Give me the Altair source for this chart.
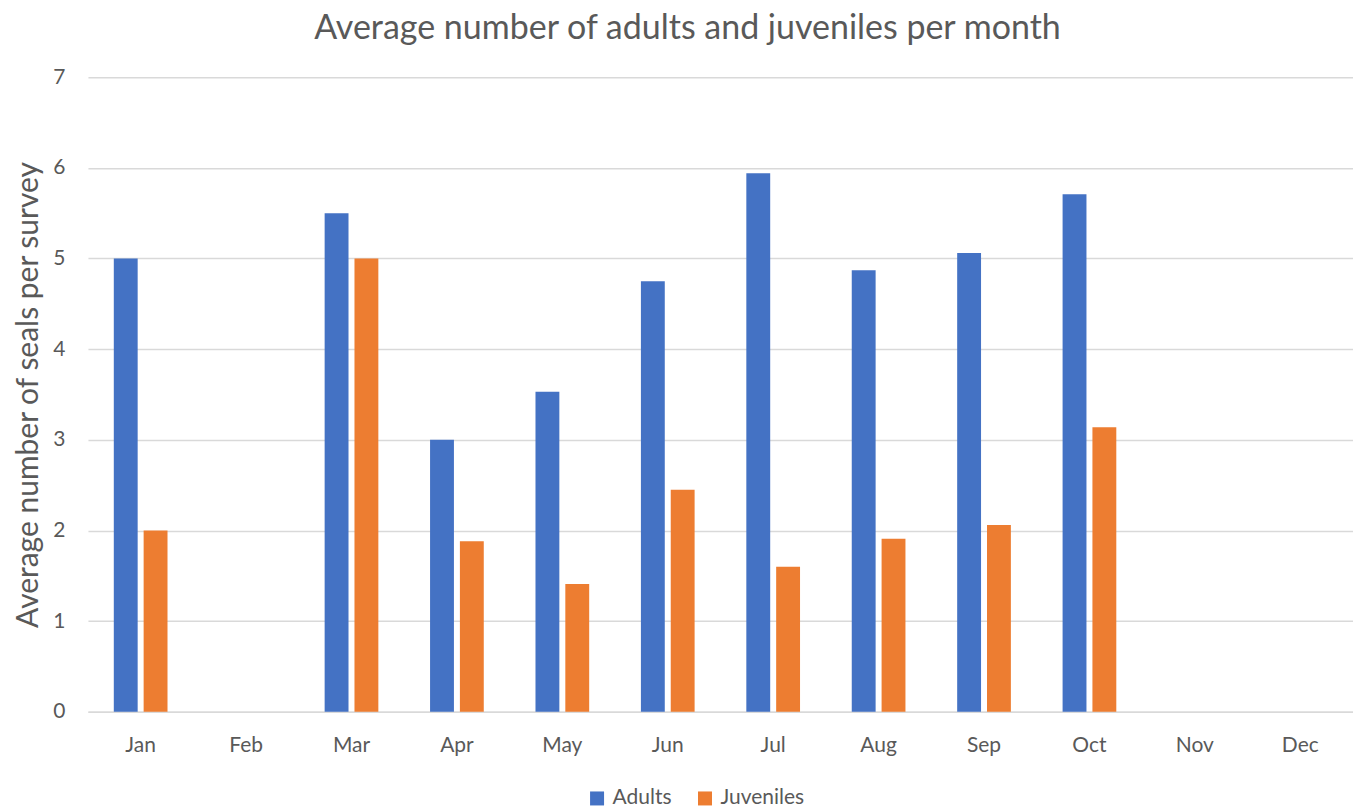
import altair as alt
import pandas as pd

months = ["Jan", "Feb", "Mar", "Apr", "May", "Jun", "Jul", "Aug", "Sep", "Oct", "Nov", "Dec"]
data_months = ["Jan", "Mar", "Apr", "May", "Jun", "Jul", "Aug", "Sep", "Oct"]
adults = [5.0, 5.5, 3.0, 3.53, 4.75, 5.94, 4.87, 5.06, 5.71]
juveniles = [2.0, 5.0, 1.88, 1.41, 2.45, 1.6, 1.91, 2.06, 3.14]
series = ["Adults", "Juveniles"]
colors = ["#4472C4", "#ED7D31"]
y_ticks = [0, 1, 2, 3, 4, 5, 6, 7]

rows = []
for m, a, j in zip(data_months, adults, juveniles):
    rows.append({"month": m, "series": "Adults", "value": a})
    rows.append({"month": m, "series": "Juveniles", "value": j})
df = pd.DataFrame(rows)

FONT = "Lato"
GRAY = "#595959"

chart = alt.Chart(df).mark_bar().encode(
    x=alt.X("month:N", sort=months,
            scale=alt.Scale(domain=months, paddingInner=0, paddingOuter=0),
            axis=alt.Axis(title=None, labelAngle=0, labelFontSize=21, labelFont=FONT,
                          labelColor=GRAY, labelPadding=23, ticks=False, grid=False,
                          domainColor="#D9D9D9", domainWidth=1.5)),
    xOffset=alt.XOffset("series:N", sort=series,
                        scale=alt.Scale(paddingInner=0.2, paddingOuter=0.8667)),
    y=alt.Y("value:Q",
            scale=alt.Scale(domain=[0, 7], nice=False),
            axis=alt.Axis(title="Average number of seals per survey", values=y_ticks,
                          titleFontSize=30, titleFont=FONT, titleColor=GRAY,
                          titleFontWeight="normal", titlePadding=9,
                          labelFontSize=21, labelFont=FONT, labelColor=GRAY,
                          labelPadding=23, ticks=False, domain=False,
                          gridColor="#D9D9D9", gridWidth=1.5)),
    color=alt.Color("series:N", sort=series,
                    scale=alt.Scale(domain=series, range=colors),
                    legend=alt.Legend(title=None, orient="none", direction="horizontal",
                                      legendX=499, legendY=711,
                                      symbolType="square", symbolSize=196,
                                      symbolStrokeWidth=0, labelFontSize=21,
                                      labelFont=FONT, labelColor=GRAY,
                                      labelOffset=5, columnPadding=22)),
).properties(
    width=1266,
    height=635,
    padding={"left": 80, "top": 69, "right": 0, "bottom": 96},
    autosize=alt.AutoSizeParams(type="none"),
    title=alt.TitleParams("Average number of adults and juveniles per month",
                          font=FONT, fontSize=34, fontWeight="normal", color=GRAY,
                          anchor="middle", dx=-33, offset=20),
).configure_view(stroke=None)

chart.save("out.html", embed_options={"renderer": "svg", "actions": False})
